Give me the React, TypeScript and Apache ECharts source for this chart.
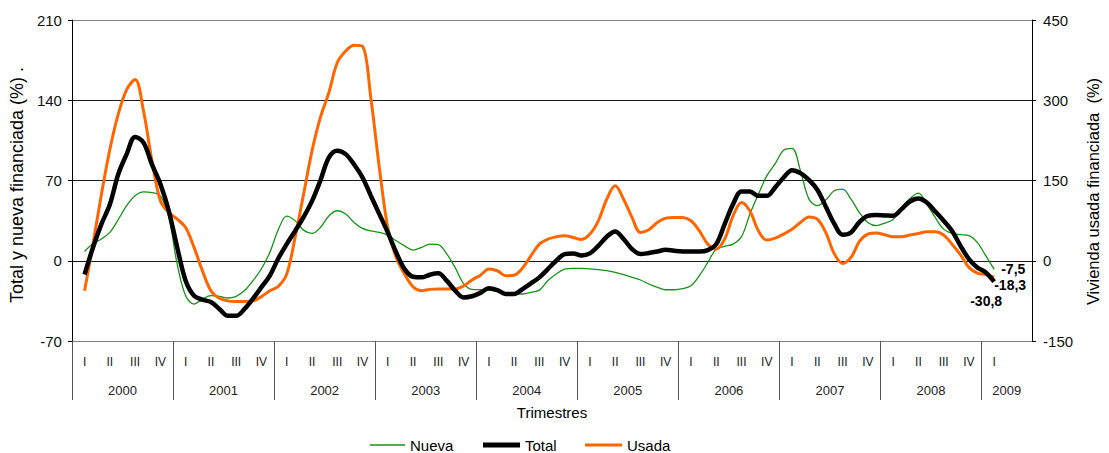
import React, { useEffect, useRef } from "react";
import * as echarts from "echarts";

// Quarter and year labels
const quarterLabels = ["I", "II", "III", "IV"];
const years = ["2000", "2001", "2002", "2003", "2004", "2005", "2006", "2007", "2008", "2009"];

// Monthly readings, Feb 2000 .. Feb 2009 (centre of each quarter = 2nd month)
const totalVals = [
  -12, 11.6, 32, 49, 75.5, 93, 108, 103, 84, 67, 43.6, 11.6,
  -17.4, -30.5, -34, -36, -42, -48, -48, -42, -33, -23, -13, 2,
  14.5, 26, 38, 52, 70, 90, 96, 93, 84, 72.6, 56.6, 40.7,
  24.7, 7.3, -7.3, -14, -14.5, -12.2, -11, -17.4, -26, -32, -31, -28,
  -24, -25.6, -29, -29, -24.7, -19.8, -14.5, -7.3, 0, 5.8, 6.4, 4.6,
  6.4, 13, 21, 25.6, 19, 10.2, 5.8, 6.7, 8, 9.6, 8.7, 8.1,
  8.1, 8.1, 9.3, 14.5, 32, 49.4, 60.4, 60.4, 56.6, 56.6, 64, 72.6,
  79, 76.4, 70.6, 62, 47.4, 32.5, 22.7, 24.7, 33.7, 39.2, 39.8, 39.5,
  39.2, 45, 51.7, 54.3, 50.8, 43, 34.9, 26, 13, 1.5, -5.8, -10.2,
  -18.3,
];

const nuevaVals = [
  8.1, 15, 19, 24.7, 36, 48, 56.6, 60, 59.5, 56.6, 37.8, -3,
  -30.5, -37.8, -33.4, -30.5, -31, -32.5, -31, -26, -17.4, -7, 7.3, 27,
  39, 35, 26.7, 23.8, 29, 39, 43.6, 40.7, 33.4, 28.2, 26, 24.7,
  22.4, 17.4, 13, 9.3, 11.6, 14.5, 14, 6, -6, -20, -25, -25.3,
  -25.6, -26.7, -28, -29, -29, -27.6, -25.6, -17.4, -11.6, -7.3, -6.7, -6.7,
  -7, -7.8, -8.7, -10.2, -12.2, -14.5, -16.8, -20.3, -23.2, -25.3, -25.3, -24.4,
  -21.8, -13, -1.5, 10.2, 12.5, 14.5, 21, 40.7, 58, 74, 84.8, 96.4,
  98, 78.4, 54, 48, 53, 61, 62.5, 53.7, 42, 33.4, 30.6, 32.8,
  36, 46.5, 54.3, 59, 49.4, 37.8, 27.6, 23.8, 22.7, 22, 16, 4.4,
  -7.5,
];

const usadaVals = [
  -56, 31, 124, 208, 274, 320, 339, 280, 187, 112, 90, 78,
  62, 25, -19, -56, -70, -75, -76, -76, -75, -67, -56, -48,
  -25, 43.6, 124, 205, 268, 314, 370, 392, 403, 401, 303, 174,
  62, 6, -25, -48.5, -56, -53.5, -53, -53, -53, -47, -36, -27,
  -15.6, -18.7, -28, -27, -13.7, 9.3, 31, 40.5, 44.8, 46.7, 43.6, 39.8,
  49.8, 74.7, 115, 140, 115, 81, 53, 58, 71.6, 79.7, 81, 81,
  74.7, 56, 31, 21.8, 40.5, 84, 109, 93, 56, 38.6, 42.3, 49.8,
  59, 71.6, 82, 77.8, 53, 13.7, -5, 6.2, 36, 49.8, 52, 48.5,
  44.8, 44.8, 48, 51, 54, 54, 48, 31, 11.2, -12.4, -23, -26,
  -30.8,
];

const FONT = "Liberation Sans, Arial, sans-serif";

export default function App() {
  const ref = useRef<HTMLDivElement>(null);

  useEffect(() => {
    if (!ref.current) return;
    document.body.style.margin = "0";
    document.documentElement.style.overflow = "hidden";
    document.body.style.overflow = "hidden";
    const chart = echarts.init(ref.current, null, { renderer: "svg", width: 1109, height: 453 });

    // 38 quarter slots (2000 I .. 2009 II) x 3 months
    const nSlots = (years.length - 1) * 12 + 6;
    const monthCats: string[] = [];
    for (let k = 0; k < nSlots; k++) {
      const y = years[Math.floor(k / 12)];
      monthCats.push(y + "-" + ((k % 12) + 1));
    }
    const boundaryCats: string[] = [];
    for (let k = 0; k <= nSlots; k++) boundaryCats.push("b" + k);
    const lastDataIdx = totalVals.length; // index of last data point (k)

    const pad = (arr: number[]) => [null as any, ...arr];
    const fmtEs = (p: any) => String(p.value).replace(".", ",");
    const legendText = { fontFamily: FONT, fontSize: 15, color: "#000", lineHeight: 16 };
    const endLbl = (offset: number[]) => ({
      show: true,
      formatter: fmtEs,
      distance: 0,
      offset,
      fontFamily: FONT,
      fontSize: 14,
      lineHeight: 14,
      fontWeight: "bold",
      color: "#000",
    });

    chart.setOption({
      animation: false,
      backgroundColor: "#ffffff",
      textStyle: { fontFamily: FONT },
      grid: { left: 67, right: 61, top: 20, bottom: 112, containLabel: false },
      legend: [
        { data: ["Nueva"], left: 370, top: 437, padding: 0, icon: "rect", itemWidth: 35, itemHeight: 1.5, textStyle: legendText },
        { data: ["Total"], left: 483, top: 437, padding: 0, icon: "rect", itemWidth: 37, itemHeight: 5, textStyle: legendText },
        { data: ["Usada"], left: 585, top: 437, padding: 0, icon: "rect", itemWidth: 37, itemHeight: 3, textStyle: legendText },
      ],
      xAxis: [
        {
          type: "category",
          data: monthCats,
          boundaryGap: true,
          axisLine: { show: true, onZero: false, lineStyle: { color: "#808080", width: 1 } },
          axisTick: { show: false },
          axisLabel: {
            interval: 0,
            margin: 15,
            fontFamily: FONT,
            fontSize: 12,
            color: "#222",
            formatter: (_v: string, i: number) =>
              i % 3 === 1 && i <= lastDataIdx ? quarterLabels[Math.floor(i / 3) % 4] : "",
          },
          splitLine: { show: false },
        },
        {
          type: "category",
          data: boundaryCats,
          boundaryGap: false,
          position: "bottom",
          axisLine: { show: false, onZero: false },
          axisTick: {
            show: true,
            length: 59,
            interval: (i: number) => i % 12 === 0 || i === nSlots,
            lineStyle: { color: "#555", width: 1 },
          },
          axisLabel: {
            interval: (i: number) => i % 12 === 6 || i === nSlots - 3,
            margin: 43,
            fontFamily: FONT,
            fontSize: 13,
            color: "#222",
            formatter: (_v: string, i: number) => years[Math.floor(i / 12)],
          },
          name: "Trimestres",
          nameLocation: "middle",
          nameGap: 64,
          nameTextStyle: { fontFamily: FONT, fontSize: 15, color: "#000" },
          splitLine: { show: false },
        },
      ],
      yAxis: [
        {
          type: "value",
          min: -70,
          max: 210,
          interval: 70,
          position: "left",
          axisLine: { show: true, lineStyle: { color: "#000", width: 1 } },
          axisTick: { show: true, length: 4, lineStyle: { color: "#000" } },
          axisLabel: { margin: 10, fontFamily: FONT, fontSize: 15, color: "#111" },
          splitLine: {
            show: true,
            lineStyle: { color: ["#808080", "#1a1a1a", "#1a1a1a", "#1a1a1a", "#808080"], width: 1 },
          },
          name: "Total y nueva financiada (%) .",
          nameLocation: "middle",
          nameRotate: 90,
          nameGap: 38,
          nameTextStyle: { fontFamily: FONT, fontSize: 18, color: "#000", padding: [0, 9, 0, 0] },
        },
        {
          type: "value",
          min: -150,
          max: 450,
          interval: 150,
          position: "right",
          axisLine: { show: true, lineStyle: { color: "#000", width: 1 } },
          axisTick: { show: true, length: 4, lineStyle: { color: "#000" } },
          axisLabel: { margin: 11, fontFamily: FONT, fontSize: 15, color: "#111" },
          splitLine: { show: false },
          name: "Vivienda usada financiada  (%)",
          nameLocation: "middle",
          nameRotate: 90,
          nameGap: 44,
          nameTextStyle: { fontFamily: FONT, fontSize: 16.5, color: "#000", padding: [0, 22, 0, 0] },
        },
      ],
      series: [
        {
          name: "Nueva",
          type: "line",
          xAxisIndex: 0,
          yAxisIndex: 0,
          data: pad(nuevaVals),
          symbol: "none",
          smooth: 0.35,
          z: 3,
          lineStyle: { color: "#149414", width: 1.3 },
          itemStyle: { color: "#149414" },
          endLabel: endLbl([7, 0]),
        },
        {
          name: "Total",
          type: "line",
          xAxisIndex: 0,
          yAxisIndex: 0,
          data: pad(totalVals),
          symbol: "none",
          smooth: 0.35,
          z: 5,
          lineStyle: { color: "#000000", width: 4.5 },
          itemStyle: { color: "#000000" },
          endLabel: endLbl([0, 3.5]),
        },
        {
          name: "Usada",
          type: "line",
          xAxisIndex: 0,
          yAxisIndex: 1,
          data: pad(usadaVals),
          symbol: "none",
          smooth: 0.35,
          z: 4,
          lineStyle: { color: "#ff6600", width: 3 },
          itemStyle: { color: "#ff6600" },
          endLabel: endLbl([-24, 24]),
        },
      ],
    });

    return () => chart.dispose();
  }, []);

  return <div ref={ref} style={{ width: 1109, height: 453 }} />;
}
